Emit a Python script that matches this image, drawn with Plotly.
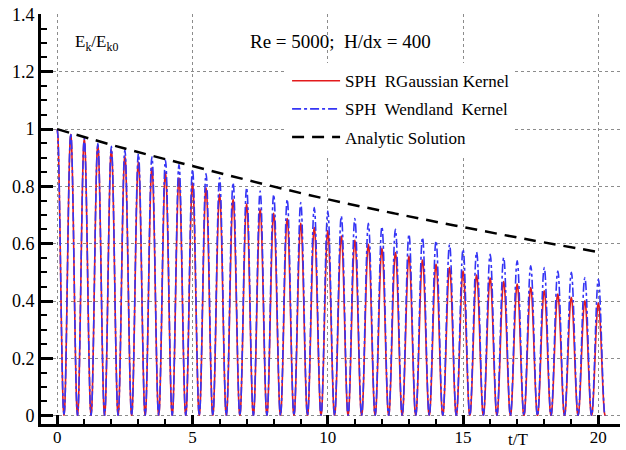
import plotly.graph_objects as go

# ---------------- data ----------------
# times of the energy peaks (t/T)
T_PEAKS = [i * 0.5 for i in range(41)]

# peak values of Ek/Ek0, SPH RGaussian kernel
RGAUSS_PEAKS = [1.000, 0.982, 0.966, 0.945, 0.928, 0.906, 0.885, 0.866, 0.848, 0.830,
                0.810, 0.795, 0.773, 0.755, 0.738, 0.720, 0.706, 0.688, 0.671, 0.656,
                0.645, 0.627, 0.612, 0.598, 0.584, 0.569, 0.557, 0.543, 0.528, 0.517,
                0.505, 0.491, 0.480, 0.468, 0.459, 0.447, 0.436, 0.424, 0.413, 0.401,
                0.393]

# peak values of Ek/Ek0, SPH Wendland kernel
WENDLAND_PEAKS = [1.000, 0.985, 0.968, 0.950, 0.940, 0.928, 0.914, 0.903, 0.892, 0.877,
                  0.860, 0.845, 0.830, 0.813, 0.796, 0.784, 0.772, 0.755, 0.744, 0.726,
                  0.714, 0.697, 0.688, 0.671, 0.660, 0.650, 0.633, 0.622, 0.610, 0.598,
                  0.581, 0.571, 0.563, 0.552, 0.540, 0.523, 0.517, 0.505, 0.500, 0.482,
                  0.476]

# shape of one half oscillation (peak -> zero), offset in t/T and fraction of the peak
SHAPE_DT = [0.0, 0.025, 0.05, 0.075, 0.1, 0.125, 0.15, 0.175, 0.2, 0.225, 0.25]
SHAPE_FRAC = [1.0, 0.976, 0.905, 0.794, 0.655, 0.5, 0.345, 0.206, 0.095, 0.024, 0.0]

# analytic solution
T_ANALYTIC = [0, 2.5, 5, 7.5, 10, 12.5, 15, 17.5, 20]
E_ANALYTIC = [1.000, 0.932, 0.871, 0.811, 0.755, 0.705, 0.658, 0.613, 0.571]

X_TICKS = [0, 5, 10, 15, 20]
Y_TICKS = [0, 0.2, 0.4, 0.6, 0.8, 1.0, 1.2, 1.4]


def build_series(peaks):
    ts, es = [], []
    for k, (tp, a) in enumerate(zip(T_PEAKS, peaks)):
        if k > 0:
            for dt, f in zip(reversed(SHAPE_DT[1:]), reversed(SHAPE_FRAC[1:])):
                ts.append(tp - dt)
                es.append(a * f)
        for dt, f in zip(SHAPE_DT, SHAPE_FRAC):
            ts.append(tp + dt)
            es.append(a * f)
    return ts, es


FONT = "Liberation Serif"

t_r, e_r = build_series(RGAUSS_PEAKS)
t_w, e_w = build_series(WENDLAND_PEAKS)

fig = go.Figure()
fig.add_trace(go.Scatter(x=t_r, y=e_r, mode="lines", name="SPH  RGaussian Kernel",
                         legendgroup="a",
                         line=dict(color="#e31a1c", width=1.6, shape="spline", smoothing=0.6)))
fig.add_trace(go.Scatter(x=t_w, y=e_w, mode="lines", name="SPH  Wendland  Kernel",
                         legendgroup="b",
                         line=dict(color="#3535f5", width=1.6, dash="dashdot", shape="spline", smoothing=0.6)))
fig.add_trace(go.Scatter(x=T_ANALYTIC, y=E_ANALYTIC, mode="lines", name="Analytic Solution",
                         legendgroup="c",
                         line=dict(color="black", width=2.5, dash="12px,8px", shape="spline")))

fig.update_layout(
    width=626, height=450,
    margin=dict(l=41, r=6, t=14, b=26, autoexpand=False),
    paper_bgcolor="white", plot_bgcolor="white",
    font=dict(family=FONT, size=17, color="black"),
    showlegend=True,
    legend=dict(x=0.425, y=0.88, xanchor="left", yanchor="top",
                bgcolor="white", borderwidth=0, tracegroupgap=3,
                itemwidth=48, font=dict(family=FONT, size=17),
                itemclick=False),
    xaxis=dict(range=[-0.6, 20.8], tickvals=X_TICKS, showline=True, linewidth=3,
               linecolor="black", ticks="inside", ticklen=9, tickwidth=2.5,
               tickcolor="black", showgrid=True, gridcolor="#8c8c8c",
               griddash="dot", gridwidth=1, zeroline=False, mirror=False,
               automargin=False, ticklabelstandoff=-4,
               minor=dict(dtick=1, ticks="inside", ticklen=5, tickwidth=1.5,
                          tickcolor="black", showgrid=False),
               tickfont=dict(family=FONT, size=17)),
    yaxis=dict(range=[-0.029, 1.4015], tickvals=Y_TICKS, showline=True, linewidth=3,
               linecolor="black", ticks="inside", ticklen=12, tickwidth=2.5,
               tickcolor="black", showgrid=True, gridcolor="#8c8c8c",
               griddash="dot", gridwidth=1, zeroline=False, mirror=False,
               automargin=False,
               minor=dict(dtick=0.05, ticks="inside", ticklen=6, tickwidth=1.5,
                          tickcolor="black", showgrid=False),
               tickfont=dict(family=FONT, size=18)),
)

fig.add_annotation(text="E<sub>k</sub>/E<sub>k0</sub>", xref="paper", yref="paper",
                   x=0.055, y=0.93, xanchor="left", yanchor="middle", showarrow=False,
                   font=dict(family=FONT, size=17))
fig.add_annotation(text="Re = 5000;  H/dx = 400", xref="paper", yref="paper",
                   x=0.5165, y=0.932, xanchor="center", yanchor="middle", showarrow=False,
                   font=dict(family=FONT, size=19))
fig.add_annotation(text="t/T", xref="paper", yref="paper",
                   x=0.824, y=-0.038, xanchor="center", yanchor="middle", showarrow=False,
                   font=dict(family=FONT, size=17))

fig.write_html("out.html")
